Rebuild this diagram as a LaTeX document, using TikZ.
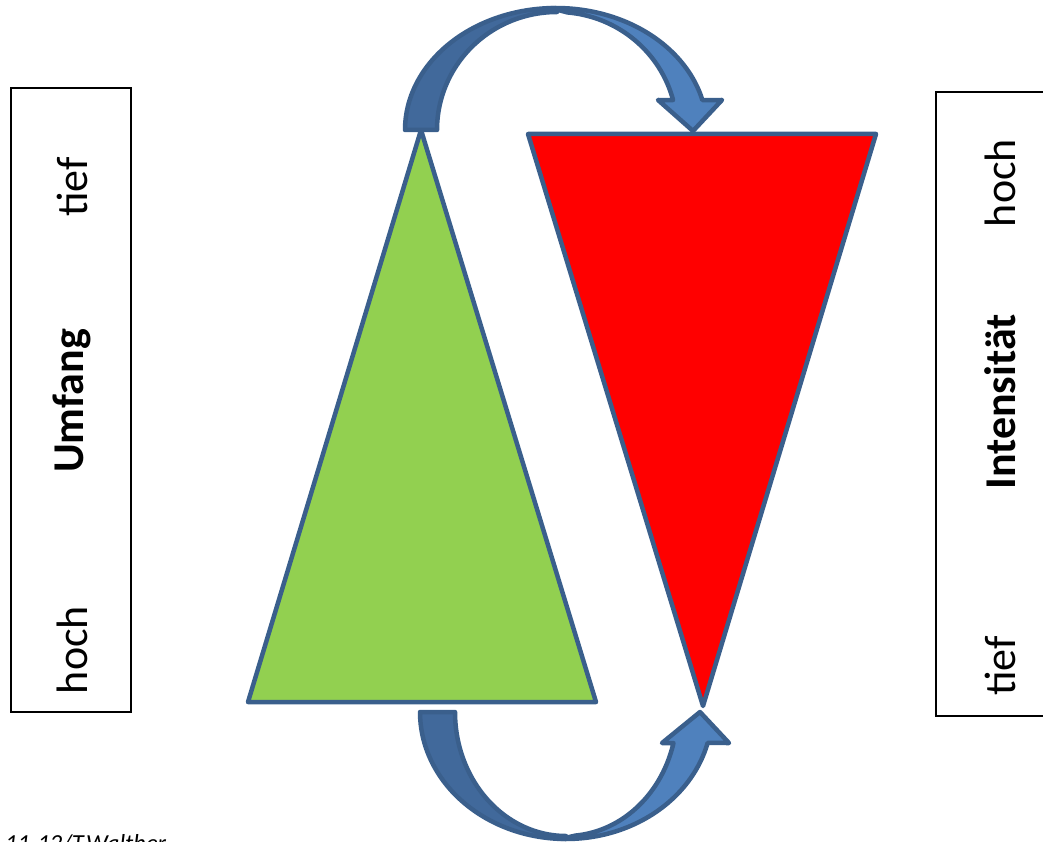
\documentclass[tikz,border=0pt]{standalone}
\usepackage{fontspec}
\setmainfont{Carlito}
\definecolor{olblue}{HTML}{3A5F8C}
\definecolor{arrdark}{HTML}{41699B}
\definecolor{arrlight}{HTML}{4F81BD}
\definecolor{tgreen}{HTML}{92D050}
\begin{document}
\begin{tikzpicture}[x=1pt,y=-1pt,
  shape outline/.style={draw=olblue,line width=4.5pt,line join=round},
  sidebox/.style={draw=black,line width=1.2pt,inner sep=0pt},
  sidetext/.style={rotate=90,font=\fontsize{44}{50}\selectfont,inner sep=0pt,anchor=center},
  boldtext/.style={sidetext,font=\fontsize{44}{50}\selectfont\bfseries}]
\useasboundingbox (0,0) rectangle (1043,842);
% side boxes
\node[sidebox,minimum width=120pt,minimum height=624pt] (lbox) at (71,400) {};
\node[sidebox,minimum width=120pt,minimum height=624pt] (rbox) at (996,404) {};
\node[sidetext] (ltief) at (72,187) {tief};
\node[boldtext] (lumf) at (72,401) {Umfang};
\node[sidetext] (lhoch) at (72,650) {hoch};
\node[sidetext] (rhoch) at (1000,183) {hoch};
\node[boldtext] (rint) at (1000,402) {Intensität};
\node[sidetext] (rtief) at (1000,666) {tief};
% triangles
\coordinate (gA) at (421,130);
\coordinate (gB) at (248,702);
\coordinate (gC) at (596,702);
\coordinate (rA) at (528,134);
\coordinate (rB) at (876,134);
\coordinate (rC) at (703,706);
\filldraw[shape outline,fill=tgreen] (gA) -- (gB) -- (gC) -- cycle;
\filldraw[shape outline,fill=red] (rA) -- (rB) -- (rC) -- cycle;
% top curved arrow
\filldraw[shape outline,fill=arrdark]
  plot[domain=180:270,samples=50] ({556+151*cos(\x)},{130+122*sin(\x)})
  -- plot[domain=270:180,samples=50] ({557+120*cos(\x)},{130+118*sin(\x)}) -- cycle;
\filldraw[shape outline,fill=arrlight]
  plot[domain=268:345.8,samples=50] ({556+151*cos(\x)},{130+122*sin(\x)})
  -- (722,100) -- (693,131) -- (658,100)
  -- plot[domain=345.3:275,samples=50] ({557+120*cos(\x)},{130+118*sin(\x)}) -- cycle;
% bottom curved arrow
\filldraw[shape outline,fill=arrdark]
  plot[domain=180:90,samples=50] ({566+146*cos(\x)},{712+127*sin(\x)})
  -- plot[domain=90:180,samples=50] ({566+111*cos(\x)},{712+124*sin(\x)}) -- cycle;
\filldraw[shape outline,fill=arrlight]
  plot[domain=92:14.1,samples=50] ({566+146*cos(\x)},{712+127*sin(\x)})
  -- (729,743) -- (700,712) -- (662,743)
  -- plot[domain=14.5:85,samples=50] ({566+111*cos(\x)},{712+124*sin(\x)}) -- cycle;
% footer
\node[anchor=base west,inner sep=0pt,font=\fontsize{24.5}{28}\selectfont\itshape] (foot) at (5,851) {11-12/T.Walther};
\end{tikzpicture}
\end{document}
